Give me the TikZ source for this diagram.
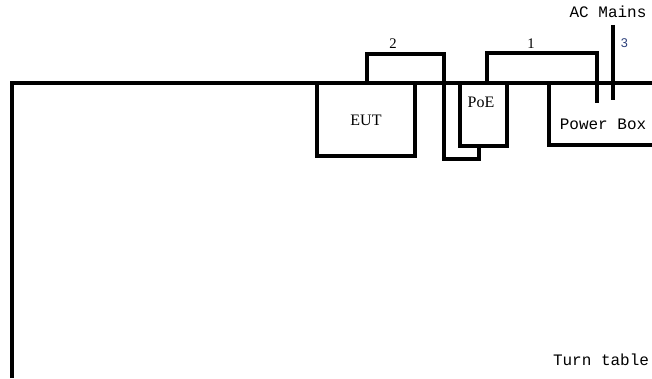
\documentclass[tikz,border=0pt]{standalone}
\usepackage{fontspec}
\setmainfont{Liberation Serif}
\newfontfamily\monof{Liberation Mono}
\newfontfamily\sansf{Liberation Sans}
\definecolor{numblue}{HTML}{2B3F7A}
\begin{document}
\begin{tikzpicture}[x=0.75pt,y=-0.75pt,
  ln/.style={line width=2.4pt,line join=miter},
  mono/.style={font=\monof\fontsize{12}{14}\selectfont,inner sep=0pt},
  serif/.style={font=\fontsize{12}{14}\selectfont,inner sep=0pt}]
\useasboundingbox (0,0) rectangle (652,378);
% turn table
\coordinate (ttl) at (12,378);
\coordinate (ttc) at (12,83);
\coordinate (ttr) at (654,83);
\draw[ln] (ttl) -- (ttc) -- (ttr);
% boxes
\draw[ln] (317,83) rectangle (415,156);
\node[serif] (eut) at (366,120) {EUT};
\draw[ln] (460,83) rectangle (507,146);
\node[serif] (poe) at (481,102) {PoE};
\draw[ln] (549,83) -- (549,145) -- (655,145);
\node[mono] (pb) at (603,124) {Power Box};
% cable 2
\coordinate (c2a) at (367,83);
\coordinate (c2b) at (479,146);
\draw[ln] (c2a) -- (367,54) -- (444,54) -- (444,159) -- (479,159) -- (c2b);
\node[serif,font=\fontsize{11}{13}\selectfont] (l2) at (393,44) {2};
% cable 1
\coordinate (c1a) at (487,83);
\coordinate (c1b) at (597,103);
\draw[ln] (c1a) -- (487,53) -- (597,53) -- (c1b);
\node[serif,font=\fontsize{11}{13}\selectfont] (l1) at (531,44) {1};
% AC mains
\coordinate (aca) at (613,25);
\coordinate (acb) at (613,100);
\draw[ln] (aca) -- (acb);
\node[mono] (acm) at (608,12) {AC Mains};
\node[inner sep=0pt,text=numblue,font=\sansf\fontsize{9.5}{11}\selectfont] (l3) at (624.5,43) {3};
\node[mono] (tt) at (601,360) {Turn table};
\end{tikzpicture}
\end{document}
